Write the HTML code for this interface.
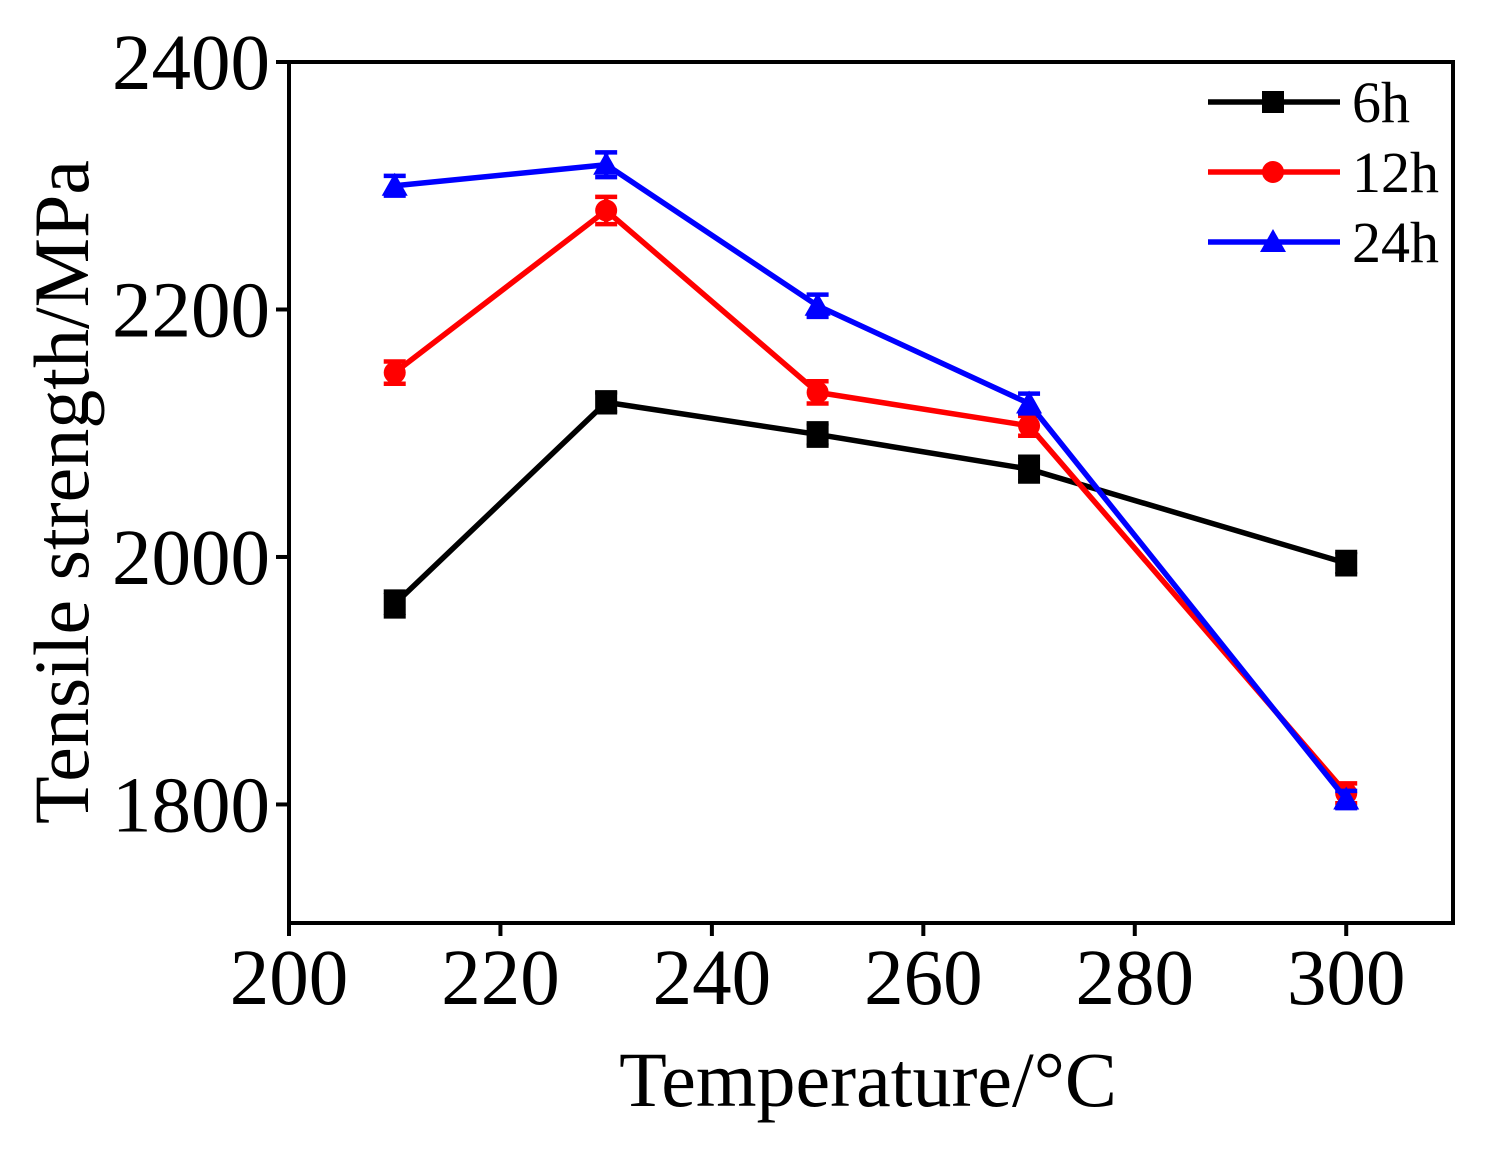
<!DOCTYPE html>
<html><head><meta charset="utf-8"><style>
html,body{margin:0;padding:0;background:#fff;}
svg{display:block;font-family:"Liberation Serif",serif;}
</style></head><body>
<svg id="chart" width="1497" height="1155"></svg>
<script>
const temps=[210,230,250,270,300];
const s6h=[1962,2125,2099,2071,1995];
const s12h=[2149,2280,2133,2106,1809];
const s24h=[2300,2317,2203,2124,1804];
const err6h=[10,8,9,10,9];
const err12h=[9,11,9,8,8];
const err24h=[8,10,9,8,7];
const xTicks=[200,220,240,260,280,300];
const yTicks=[1800,2000,2200,2400];
const seriesNames=['6h','12h','24h'];

const NS='http://www.w3.org/2000/svg';
const svg=document.getElementById('chart');
const L=289,R=1453,T=62,B=923;
const xmin=200,xmax=310.1,ymax=2400,ymin=1704.2;
const X=v=>L+(v-xmin)/(xmax-xmin)*(R-L);
const Y=v=>T+(ymax-v)/(ymax-ymin)*(B-T);
function el(tag,attrs,parent){const e=document.createElementNS(NS,tag);for(const k in attrs)e.setAttribute(k,attrs[k]);(parent||svg).appendChild(e);return e;}

const frame=el('rect',{x:L,y:T,width:R-L,height:B-T,fill:'none',stroke:'#000','stroke-width':4});



xTicks.forEach(t=>{
  const l=el('line',{x1:X(t),x2:X(t),y1:B,y2:B+13,stroke:'#000','stroke-width':4});
  
  
  const tx=el('text',{x:X(t),y:1004,'text-anchor':'middle','font-size':79});
  tx.textContent=t;
  
  
});
yTicks.forEach(t=>{
  const l=el('line',{x1:L-13,x2:L,y1:Y(t),y2:Y(t),stroke:'#000','stroke-width':4});
  
  
  const tx=el('text',{x:270,y:Y(t)+27,'text-anchor':'end','font-size':79});
  tx.textContent=t;
  
  
});

const xt=el('text',{x:868,y:1106,'text-anchor':'middle','font-size':78});
xt.textContent='Temperature/°C';


const yt=el('text',{x:0,y:0,'text-anchor':'middle','font-size':78,transform:'translate(88,492) rotate(-90)'});
yt.textContent='Tensile strength/MPa';



function marker(g,shape,cx,cy,color){
  if(shape==='square') return el('rect',{x:cx-11,y:cy-11,width:22,height:22,fill:color},g);
  if(shape==='circle') return el('circle',{cx:cx,cy:cy,r:11,fill:color},g);
  return el('polygon',{points:`${cx},${cy-13} ${cx+13},${cy+10} ${cx-13},${cy+10}`,fill:color},g);
}
const allSeries=[[s6h,err6h,'#000','square'],[s12h,err12h,'#ff0000','circle'],[s24h,err24h,'#0000ff','triangle']];
allSeries.forEach((s,i)=>{
  const [vals,errs,color,shape]=s;
  const g=el('g',{});
  
  
  const line=el('polyline',{points:temps.map((t,j)=>X(t)+','+Y(vals[j])).join(' '),fill:'none',stroke:color,'stroke-width':5.5},g);
  
  
  temps.forEach((t,j)=>{
    const cx=X(t),y1=Y(vals[j]+errs[j]),y2=Y(vals[j]-errs[j]);
    const eb=el('path',{d:`M${cx},${y1}V${y2}M${cx-11},${y1}H${cx+11}M${cx-11},${y2}H${cx+11}`,stroke:color,'stroke-width':4.5,fill:'none'},g);
    
    
    const m=marker(g,shape,cx,Y(vals[j]),color);
    
    
  });
  const ly=102+i*70;
  const lg=el('g',{});
  
  
  el('line',{x1:1208,x2:1340,y1:ly,y2:ly,stroke:color,'stroke-width':5.5},lg);
  marker(lg,shape,1273,ly,color);
  const lt=el('text',{x:1352,y:ly+20,'font-size':58},lg);
  lt.textContent=seriesNames[i];
});
</script>
</body></html>
